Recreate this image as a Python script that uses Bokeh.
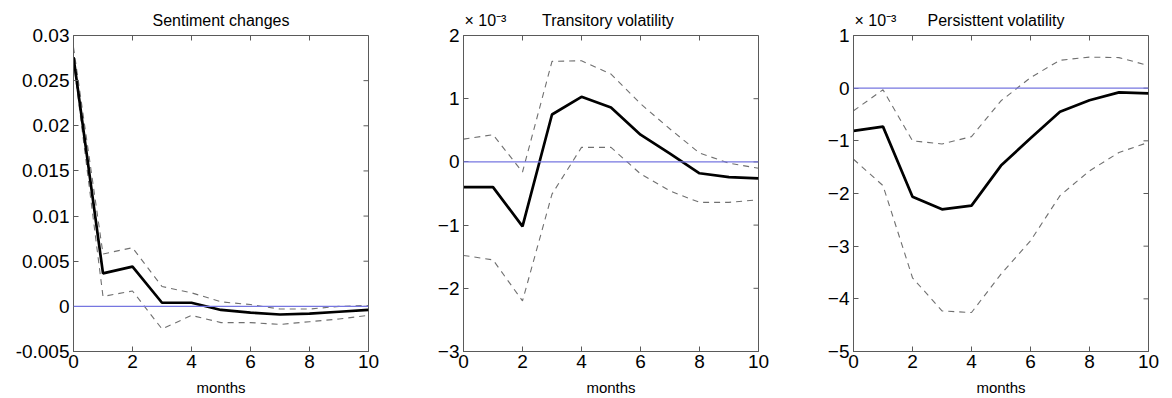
from bokeh.plotting import figure
from bokeh.layouts import row
from bokeh.models import FixedTicker, Range1d, Span
from bokeh.embed import file_html
from bokeh.resources import INLINE

months = [0, 1, 2, 3, 4, 5, 6, 7, 8, 9, 10]

# Sentiment changes
sent_mean = [0.0276, 0.00365, 0.0044, 0.0004, 0.0004, -0.0004, -0.0007, -0.0009, -0.0008, -0.0006, -0.0004]
sent_upper = [0.0287, 0.0058, 0.0065, 0.0022, 0.0015, 0.0005, 0.0002, -0.0003, -0.0003, 0.0, 0.0001]
sent_lower = [0.0272, 0.0011, 0.0017, -0.0025, -0.001, -0.0018, -0.0018, -0.002, -0.0017, -0.0014, -0.001]

# Transitory volatility (x 1e-3)
trans_mean = [-0.40, -0.40, -1.02, 0.75, 1.03, 0.86, 0.43, 0.13, -0.18, -0.24, -0.26]
trans_upper = [0.36, 0.43, -0.16, 1.59, 1.60, 1.39, 0.92, 0.52, 0.14, -0.02, -0.10]
trans_lower = [-1.48, -1.55, -2.20, -0.51, 0.23, 0.23, -0.19, -0.46, -0.64, -0.64, -0.60]

# Persistent volatility (x 1e-3)
pers_mean = [-0.81, -0.73, -2.06, -2.30, -2.23, -1.47, -0.95, -0.45, -0.23, -0.08, -0.10]
pers_upper = [-0.43, -0.03, -1.00, -1.06, -0.92, -0.24, 0.20, 0.53, 0.59, 0.58, 0.43]
pers_lower = [-1.35, -1.85, -3.60, -4.23, -4.26, -3.53, -2.90, -2.04, -1.57, -1.22, -1.03]

x_ticks = [0, 2, 4, 6, 8, 10]
sent_ticks = [-0.005, 0, 0.005, 0.01, 0.015, 0.02, 0.025, 0.03]
sent_labels = ["-0.005", "0", "0.005", "0.01", "0.015", "0.02", "0.025", "0.03"]
trans_ticks = [-3, -2, -1, 0, 1, 2]
pers_ticks = [-5, -4, -3, -2, -1, 0, 1]

exponent_text = "\u00d7\u00a010\u207b\u00b3"

FONT = "Liberation Sans"
AX_COLOR = "#5a5a5a"
FRAME_W = 295
FRAME_H = 316
TICK_PX = 5
NBSP = "\u00a0"


def minus(v):
    return ("%g" % v).replace("-", "\u2212")


def make_panel(title, mean, upper, lower, yticks, ylabels, yrange, width, right_border, gap):
    p = figure(width=width, height=398, output_backend="svg", toolbar_location=None,
               x_range=Range1d(0, 10), y_range=Range1d(*yrange),
               min_border_left=73, min_border_right=right_border,
               min_border_top=35, min_border_bottom=47)
    p.background_fill_color = "white"
    p.border_fill_color = "white"
    p.outline_line_color = AX_COLOR
    p.outline_line_width = 1
    p.xgrid.visible = False
    p.ygrid.visible = False

    p.xaxis.ticker = FixedTicker(ticks=x_ticks)
    p.yaxis.ticker = FixedTicker(ticks=yticks)
    for ax in p.axis:
        ax.axis_line_color = AX_COLOR
        ax.major_tick_line_color = AX_COLOR
        ax.major_tick_in = TICK_PX
        ax.major_tick_out = 0
        ax.minor_tick_line_color = None
        ax.major_label_text_font = FONT
        ax.major_label_text_font_size = "19px"
        ax.major_label_text_color = "black"

    xa = p.xaxis[0]
    xa.major_label_standoff = 3
    xa.axis_label = "months"
    xa.axis_label_text_font = FONT
    xa.axis_label_text_font_size = "15px"
    xa.axis_label_text_font_style = "normal"
    xa.axis_label_text_color = "black"
    xa.axis_label_standoff = 8

    ya = p.yaxis[0]
    ya.major_label_standoff = 4
    ya.major_label_overrides = {t: l for t, l in zip(yticks, ylabels)}

    # mirrored inward ticks on the top and right edges of the box
    span_y = yrange[1] - yrange[0]
    dy = span_y * TICK_PX / FRAME_H
    dx = 10 * TICK_PX / FRAME_W
    p.segment(x0=x_ticks, x1=x_ticks, y0=[yrange[1]] * len(x_ticks),
              y1=[yrange[1] - dy] * len(x_ticks), line_color=AX_COLOR, line_width=1)
    p.segment(x0=[10] * len(yticks), x1=[10 - dx] * len(yticks), y0=yticks, y1=yticks,
              line_color=AX_COLOR, line_width=1)

    p.add_layout(Span(location=0, dimension="width", line_color="#7676e0", line_width=1.3))

    p.line(months, upper, line_color="#707070", line_width=1.1, line_dash="6 5")
    p.line(months, lower, line_color="#707070", line_width=1.1, line_dash="6 5")
    p.line(months, mean, line_color="black", line_width=2.7)

    if gap is None:
        p.title.text = title
        p.title.align = "center"
    else:
        p.title.text = exponent_text + NBSP * gap + title
        p.title.align = "left"
        p.title.offset = 1
    p.title.text_font = FONT
    p.title.text_font_size = "16px"
    p.title.text_font_style = "normal"
    p.title.text_color = "black"
    p.title.standoff = 14
    return p


p1 = make_panel("Sentiment changes", sent_mean, sent_upper, sent_lower,
                sent_ticks, sent_labels, (-0.005, 0.03), 390, 22, None)
p2 = make_panel("Transitory volatility", trans_mean, trans_upper, trans_lower,
                trans_ticks, [minus(t) for t in trans_ticks], (-3, 2), 390, 22, 8)
p3 = make_panel("Persisttent volatility", pers_mean, pers_upper, pers_lower,
                pers_ticks, [minus(t) for t in pers_ticks], (-5, 1), 392, 24, 7)

layout = row(p1, p2, p3, spacing=0)
open("out.html", "w").write(file_html(layout, INLINE))
